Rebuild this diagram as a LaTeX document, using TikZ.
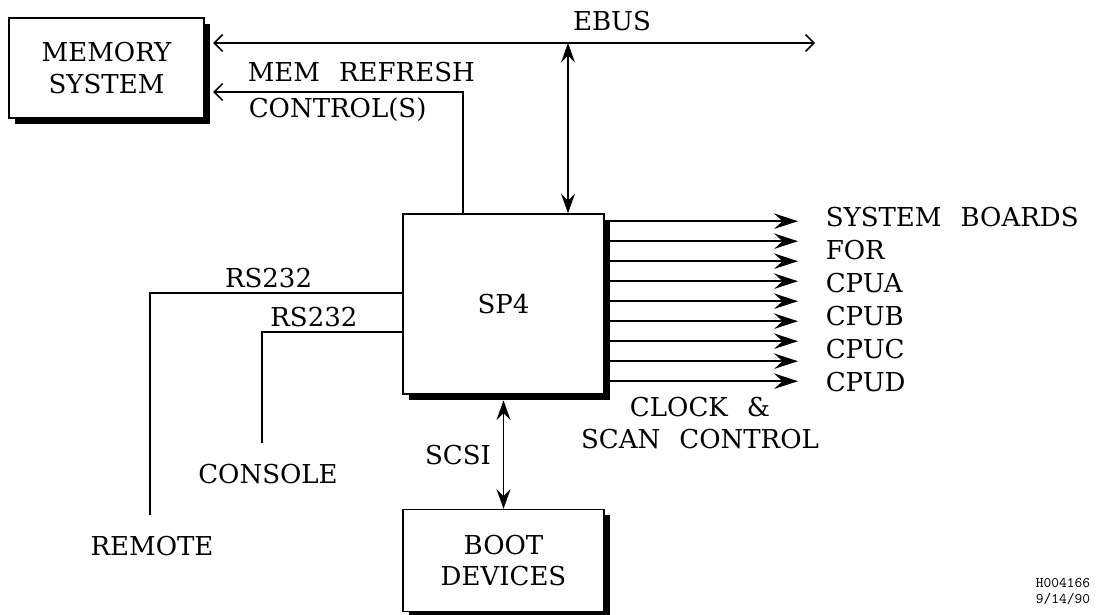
\documentclass[tikz,border=0pt]{standalone}
\usepackage{fontspec}
\setmainfont[WordSpace=2.3]{DejaVu Serif}
\usetikzlibrary{arrows.meta,positioning,shadows,calc}

\begin{document}
\begin{tikzpicture}[x=0.025cm, y=-0.025cm,
  line width=1.1pt,
  font=\fontsize{18.5}{22.6}\selectfont,
  unitbox/.style={draw, fill=white, align=center, inner sep=0pt, drop shadow={shadow xshift=4pt, shadow yshift=-4pt, fill=black, opacity=1}},
  lbl/.style={inner sep=0pt, anchor=base},
  arr/.style={-{Stealth[length=17pt, width=11pt, inset=6pt]}},
  darr/.style={{Stealth[length=14pt, width=10pt, inset=5pt]}-{Stealth[length=14pt, width=10pt, inset=5pt]}},
  barb/.style={{Straight Barb[length=6pt, width=12pt]}-{Straight Barb[length=6pt, width=12pt]}}
]
\useasboundingbox (0,0) rectangle (1097,615);

% units
\node[unitbox, minimum width=4.875cm, minimum height=2.5cm] (mem) at (106.5,68) {MEMORY\\SYSTEM};
\node[unitbox, minimum width=5.025cm, minimum height=4.5cm] (sp4) at (503.5,304) {SP4};
\node[unitbox, minimum width=5.025cm, minimum height=2.55cm, below=2.85cm of sp4] (boot) {BOOT\\DEVICES};

% bend and end points
\coordinate (ebusend) at (815,43);
\coordinate (ebustap) at (568,43);
\coordinate (refbend) at (463,92);
\coordinate (rsa) at (150,293);
\coordinate (rsb) at (262,332);
\coordinate (remend) at (150,515);
\coordinate (conend) at (262,443);
\coordinate (fanend) at (798,0);

% buses
\draw[barb, shorten <=6pt] (mem.east |- ebusend) -- (ebusend);
\node[lbl] (ebus) at (612,31) {EBUS};
\draw[darr] (ebustap) -- (ebustap |- sp4.north);
\draw[-{Straight Barb[length=6pt, width=12pt]}, shorten >=6pt] (refbend |- sp4.north) -- (refbend) -- (mem.east |- refbend);
\node[lbl, anchor=base west] (memref) at (247,82) {MEM REFRESH};
\node[lbl, anchor=base west] (ctrl) at (248,118) {CONTROL(S)};

% serial lines
\draw (sp4.west |- rsa) -- node[lbl, above=3pt, pos=0.53] (rs1) {RS232} (rsa) -- (remend);
\draw (sp4.west |- rsb) -- node[lbl, above=3pt, pos=0.63] (rs2) {RS232} (rsb) -- (conend);
\node[lbl] (console) at (268,483) {CONSOLE};
\node[lbl] (remote) at (152,555) {REMOTE};

% scsi
\draw[darr, shorten <=4pt] (sp4.south) -- (boot.north);
\node[lbl] (scsi) at (458,465) {SCSI};

% clock and scan fan-out
\foreach \i in {0,...,8}
  \draw[arr] (sp4.north east) ++(0,{8+20*\i}) coordinate (fan\i) -- (fan\i -| fanend);
\foreach \t [count=\k from 0] in {SYSTEM BOARDS, FOR, CPUA, CPUB, CPUC, CPUD}
  \node[lbl, anchor=base west] (brd\k) at (825,{227+33*\k}) {\t};
\node[lbl] (clock) at (700,417) {CLOCK \&};
\node[lbl] (scan) at (700,448) {SCAN CONTROL};

% drawing number
\node[inner sep=0pt, anchor=north east, align=right, font=\ttfamily\fontsize{10.5}{11}\selectfont] (stamp) at (1091,578) {H004166\\9/14/90};
\end{tikzpicture}
\end{document}
